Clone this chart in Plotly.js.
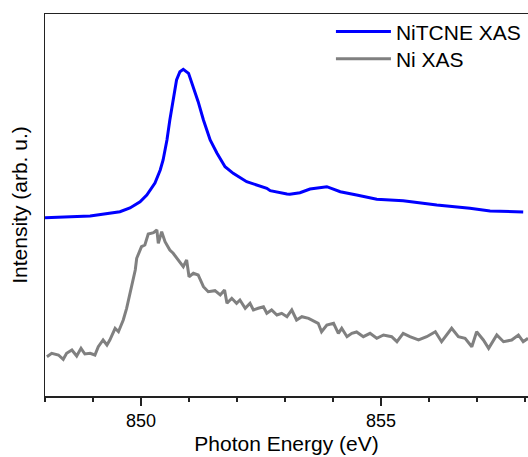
<!DOCTYPE html>
<html>
<head>
<meta charset="utf-8">
<script src="https://cdn.plot.ly/plotly-3.0.1.min.js"></script>
<style>html,body{margin:0;padding:0;background:#fff;}#chart{width:528px;height:457px;}</style>
</head>
<body>
<div id="chart"></div>
<script>
// NiTCNE XAS (blue)
const nitcneEnergy = [848.00,848.94,849.56,849.77,849.98,850.12,850.29,850.40,850.46,850.54,850.60,850.67,850.74,850.81,850.88,850.99,851.09,851.19,851.30,851.44,851.58,851.75,851.92,852.20,852.62,852.69,853.04,853.10,853.31,853.52,853.87,854.15,854.49,854.91,855.46,856.16,856.85,857.27,857.96];
const nitcneIntensity = [178.3,180,184.3,188,194.3,201,213,226,236,256,276,296,316,324.3,326.7,322.7,309.3,294.3,276,256,243,229.3,222.7,214.3,207.7,205.3,202,201.7,203.3,207,209.3,204.3,201,196.7,195.3,191,187.7,185,184];

// Ni XAS (gray)
const niEnergy = [848.04,848.14,848.28,848.38,848.45,848.56,848.66,848.75,848.83,848.94,849.04,849.11,849.21,849.29,849.35,849.46,849.53,849.63,849.70,849.77,849.82,849.88,849.91,850.01,850.08,850.15,850.26,850.33,850.36,850.43,850.50,850.60,850.67,850.78,850.88,850.95,851.00,851.09,851.19,851.30,851.40,851.54,851.65,851.74,851.79,851.89,851.99,852.06,852.17,852.27,852.34,852.44,852.55,852.62,852.72,852.83,852.93,853.04,853.14,853.24,853.35,853.49,853.59,853.69,853.76,853.87,854.01,854.11,854.18,854.29,854.39,854.49,854.63,854.77,854.91,855.05,855.22,855.33,855.46,855.60,855.78,855.95,856.13,856.26,856.47,856.61,856.75,856.89,856.99,857.13,857.24,857.41,857.55,857.72,857.86,857.96,858.06];
const niIntensity = [39.3,42.7,41,36.7,42.7,46,40,47.7,42,42.7,41,49.3,56,51,56,67.7,64.3,76,87.7,102.7,111,126,137.7,149.3,151,162,163.3,166,152.7,164.3,154.3,146,142.7,136,129.3,136,119.3,122.7,121,109.3,104.3,105.3,101,106,92.7,97.7,92.7,96,87.7,92.7,86,87.7,89.3,82.7,86,81,82.7,79.3,86,76,79.3,77.7,75.3,72.7,64.3,71,72.7,62.7,67.7,59.3,62.7,64,59.3,62.7,57.7,61,59.3,54.3,62.7,59.3,56,59.3,64.3,54.3,67.7,59.3,57.7,49.3,64.3,56,47.7,61,54.3,56,61,54.3,57.7];

const seriesNames = ["NiTCNE XAS", "Ni XAS"];
const xTickVals = [850, 855];

const font = "Arial, 'Liberation Sans', sans-serif";

const traces = [
  {x: nitcneEnergy, y: nitcneIntensity, name: seriesNames[0], type: "scatter", mode: "lines",
   line: {color: "#0000ff", width: 3}, legend: "legend"},
  {x: niEnergy, y: niIntensity, name: seriesNames[1], type: "scatter", mode: "lines",
   line: {color: "#808080", width: 3}, legend: "legend2"}
];

const legendBase = {bgcolor: "rgba(0,0,0,0)", borderwidth: 0,
  font: {family: font, size: 21, color: "#000"}, itemwidth: 55,
  x: 0.592, xanchor: "left", yanchor: "middle"};

const layout = {
  width: 528, height: 457,
  margin: {l: 45, r: 0, t: 14, b: 61},
  paper_bgcolor: "#fff", plot_bgcolor: "#fff",
  font: {family: font, color: "#000"},
  showlegend: true,
  legend: Object.assign({}, legendBase, {y: 0.953}),
  legend2: Object.assign({}, legendBase, {y: 0.882}),
  xaxis: {
    range: [848, 858.06], showgrid: false, zeroline: false,
    showline: true, linecolor: "#222", linewidth: 1.5, mirror: true,
    ticks: "outside", ticklen: 8, tickwidth: 1.5, tickcolor: "#222",
    tickvals: xTickVals, ticktext: xTickVals.map(String),
    tickfont: {family: font, size: 18, color: "#000"},
    minor: {dtick: 1, tick0: 848, ticks: "outside", ticklen: 4, tickwidth: 1.5, tickcolor: "#222", showgrid: false},
    title: {text: "Photon Energy (eV)", font: {family: font, size: 21, color: "#000"}, standoff: 6}
  },
  yaxis: {
    range: [0, 382], showgrid: false, zeroline: false,
    showline: true, linecolor: "#222", linewidth: 1.5, mirror: false,
    ticks: "", showticklabels: false,
    title: {text: "Intensity (arb. u.)", font: {family: font, size: 21, color: "#000"}, standoff: 10}
  }
};

Plotly.newPlot("chart", traces, layout, {displayModeBar: false, staticPlot: true});
</script>
</body>
</html>
